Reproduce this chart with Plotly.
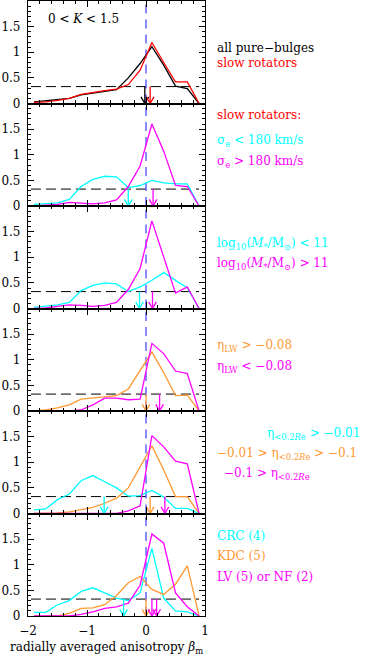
import plotly.graph_objects as go
from plotly.subplots import make_subplots

# ---------------- data ----------------
beta_bins = [-1.9, -1.7, -1.5, -1.3, -1.1, -0.9, -0.7, -0.5, -0.3, -0.1, 0.1, 0.3, 0.5, 0.7, 0.9]

# panel 1
all_pure_bulges = [0.03, 0.05, 0.08, 0.10, 0.17, 0.20, 0.23, 0.27, 0.50, 0.78, 1.11, 0.75, 0.34, 0.29, 0.0]
slow_rotators   = [0.02, 0.03, 0.06, 0.10, 0.18, 0.22, 0.25, 0.28, 0.37, 0.65, 1.19, 0.80, 0.42, 0.42, 0.0]
# panel 2
sigma_low  = [0.03, 0.04, 0.06, 0.13, 0.38, 0.52, 0.58, 0.57, 0.36, 0.40, 0.50, 0.45, 0.43, 0.43, 0.0]
sigma_high = [0.00, 0.01, 0.03, 0.07, 0.06, 0.04, 0.06, 0.12, 0.38, 0.78, 1.60, 1.07, 0.40, 0.38, 0.0]
# panel 3
mass_low  = [0.02, 0.04, 0.07, 0.12, 0.35, 0.45, 0.50, 0.48, 0.33, 0.42, 0.55, 0.70, 0.55, 0.40, 0.0]
mass_high = [0.00, 0.01, 0.04, 0.07, 0.06, 0.04, 0.06, 0.12, 0.37, 0.78, 1.71, 1.00, 0.30, 0.42, 0.0]
# panel 4
etaLW_high = [0.00, 0.02, 0.06, 0.12, 0.23, 0.25, 0.27, 0.30, 0.43, 0.80, 1.15, 0.75, 0.30, 0.31, 0.0]
etaLW_low  = [0.00, 0.00, 0.00, 0.00, 0.02, 0.12, 0.25, 0.25, 0.22, 0.23, 1.32, 1.12, 0.78, 0.73, 0.0]
# panel 5
eta02_high = [0.07, 0.09, 0.27, 0.38, 0.64, 0.74, 0.62, 0.50, 0.34, 0.35, 0.45, 0.32, 0.10, 0.10, 0.0]
eta02_mid  = [0.00, 0.00, 0.01, 0.03, 0.08, 0.12, 0.20, 0.30, 0.50, 0.90, 1.32, 0.85, 0.33, 0.33, 0.0]
eta02_low  = [0.00, 0.00, 0.00, 0.00, 0.00, 0.00, 0.00, 0.00, 0.05, 0.15, 1.52, 1.30, 1.02, 0.97, 0.0]
# panel 6
crc      = [0.07, 0.07, 0.22, 0.30, 0.48, 0.55, 0.45, 0.35, 0.30, 0.45, 1.32, 0.35, 0.10, 0.08, 0.0]
kdc      = [0.00, 0.00, 0.00, 0.05, 0.15, 0.16, 0.22, 0.40, 0.65, 0.77, 0.52, 0.42, 0.62, 0.98, 0.0]
lv_nf    = [0.00, 0.00, 0.00, 0.00, 0.03, 0.08, 0.15, 0.18, 0.25, 0.60, 1.60, 1.42, 0.45, 0.18, 0.0]

# median arrows (beta values) per panel
arrows_p1 = {"black": [-0.02], "red": [0.07]}
arrows_p2 = {"cyan": [-0.30], "magenta": [0.12]}
arrows_p3 = {"cyan": [-0.11], "magenta": [0.11]}
arrows_p4 = {"orange": [0.00], "magenta": [0.23]}
arrows_p5 = {"cyan": [-0.71], "orange": [0.07], "magenta": [0.32]}
arrows_p6 = {"cyan": [-0.38], "orange": [0.00], "magenta": [0.10, 0.18]}

threshold_level = 0.33
isotropic_beta = 0.0

x_ticks = [-2, -1, 0, 1]
x_tick_labels = ["\u22122", "\u22121", "0", "1"]
y_ticks = [0, 0.5, 1, 1.5]
y_tick_labels = ["0", "0.5", "1", "1.5"]

# ---------------- style ----------------
COL = {
    "black": "#000000",
    "red": "#FF0000",
    "cyan": "#00FFFF",
    "magenta": "#FF00FF",
    "orange": "#FF9933",
    "blue": "#3C3CFF",
}
FONT = "DejaVu Serif"
W, H = 387, 657
ML, MR, MT, MB = 28, 182, 1, 41

fig = make_subplots(rows=6, cols=1, shared_xaxes=True, vertical_spacing=0)

panels = [
    [(all_pure_bulges, "black"), (slow_rotators, "red")],
    [(sigma_low, "cyan"), (sigma_high, "magenta")],
    [(mass_low, "cyan"), (mass_high, "magenta")],
    [(etaLW_high, "orange"), (etaLW_low, "magenta")],
    [(eta02_high, "cyan"), (eta02_mid, "orange"), (eta02_low, "magenta")],
    [(crc, "cyan"), (kdc, "orange"), (lv_nf, "magenta")],
]
panel_arrows = [arrows_p1, arrows_p2, arrows_p3, arrows_p4, arrows_p5, arrows_p6]

HEAD_DX = 0.065
HEAD_DY = 0.13

for i, (series, arrows) in enumerate(zip(panels, panel_arrows)):
    row = i + 1
    # threshold dashed line
    fig.add_trace(go.Scatter(x=[beta_bins[0] - 0.05, beta_bins[-1]], y=[threshold_level, threshold_level],
                             mode="lines", line=dict(color="black", width=1, dash="10px,5px"),
                             showlegend=False, hoverinfo="skip"), row=row, col=1)
    # isotropic vertical dashed line
    fig.add_trace(go.Scatter(x=[isotropic_beta, isotropic_beta], y=[0, 2],
                             mode="lines", line=dict(color=COL["blue"], width=1.2, dash="9px,6px"),
                             showlegend=False, hoverinfo="skip"), row=row, col=1)
    for ys, c in series:
        fig.add_trace(go.Scatter(x=beta_bins, y=ys, mode="lines",
                                 line=dict(color=COL[c], width=1.3),
                                 showlegend=False, hoverinfo="skip"), row=row, col=1)
    for c, vals in arrows.items():
        for a in vals:
            xs = [a, a, None, a - HEAD_DX, a, a + HEAD_DX]
            ys = [threshold_level, 0, None, HEAD_DY, 0, HEAD_DY]
            fig.add_trace(go.Scatter(x=xs, y=ys, mode="lines",
                                     line=dict(color=COL[c], width=1.3),
                                     showlegend=False, hoverinfo="skip"), row=row, col=1)

fig.update_xaxes(range=[-2, 1], showgrid=False, zeroline=False, automargin=False,
                 showline=True, linecolor="black", linewidth=1.2, mirror="ticks",
                 ticks="inside", ticklen=6, tickwidth=1, tickcolor="black",
                 tickvals=x_ticks, ticktext=x_tick_labels, ticklabelstandoff=3,
                 minor=dict(dtick=0.2, tick0=0, ticks="inside", ticklen=3, tickcolor="black", showgrid=False),
                 tickfont=dict(family=FONT, size=12, color="black"))
fig.update_yaxes(range=[0, 2], showgrid=False, zeroline=False, automargin=False,
                 showline=True, linecolor="black", linewidth=1.2, mirror="ticks",
                 ticks="inside", ticklen=6, tickwidth=1, tickcolor="black",
                 tickvals=y_ticks, ticktext=y_tick_labels, ticklabelstandoff=4,
                 minor=dict(dtick=0.1, tick0=0, ticks="inside", ticklen=3, tickcolor="black", showgrid=False),
                 tickfont=dict(family=FONT, size=12, color="black"))

plot_h = H - MT - MB
plot_w = W - ML - MR


def px_to_paper(px, py):
    return (px - ML) / plot_w, (H - MB - py) / plot_h


labels = [
    (215, 48, "all pure\u2212bulges", "black"),
    (215, 63, "slow rotators", "red"),
    (215, 115, "slow rotators:", "red"),
    (215, 141, "\u03c3<sub>e</sub> &lt; 180 km/s", "cyan"),
    (215, 162, "\u03c3<sub>e</sub> &gt; 180 km/s", "magenta"),
    (215, 244, "log<sub>10</sub>(<i>M</i><sub>*</sub>/M<sub>\u2299</sub>) &lt; 11", "cyan"),
    (215, 264, "log<sub>10</sub>(<i>M</i><sub>*</sub>/M<sub>\u2299</sub>) &gt; 11", "magenta"),
    (215, 346, "\u03b7<sub>LW</sub> &gt; \u22120.08", "orange"),
    (215, 367, "\u03b7<sub>LW</sub> &lt; \u22120.08", "magenta"),
    (265, 434, "\u03b7<sub>&lt;0.2<i>R</i>e</sub> &gt; \u22120.01", "cyan"),
    (215, 454, "\u22120.01 &gt; \u03b7<sub>&lt;0.2<i>R</i>e</sub> &gt; \u22120.1", "orange"),
    (222, 474, "\u22120.1 &gt; \u03b7<sub>&lt;0.2<i>R</i>e</sub>", "magenta"),
    (215, 536, "CRC (4)", "cyan"),
    (215, 556, "KDC (5)", "orange"),
    (215, 577, "LV (5) or NF (2)", "magenta"),
]
for px, py, txt, c in labels:
    xp, yp = px_to_paper(px, py)
    fig.add_annotation(x=xp, y=yp, xref="paper", yref="paper", text=txt, showarrow=False,
                       xanchor="left", yanchor="middle",
                       font=dict(family=FONT, size=12, color=COL[c]))

# x-axis title
xp, yp = px_to_paper(8, 648)
fig.add_annotation(x=xp, y=yp, xref="paper", yref="paper",
                   text="radially averaged anisotropy <i>\u03b2</i><sub>m</sub>", showarrow=False,
                   xanchor="left", yanchor="middle", font=dict(family=FONT, size=12, color="black"))

fig.add_annotation(x=-1.69, y=1.65, xref="x", yref="y", text="0 &lt; <i>K</i> &lt; 1.5", showarrow=False,
                   xanchor="left", yanchor="middle", font=dict(family=FONT, size=12, color="black"))

fig.update_layout(width=W, height=H, margin=dict(l=ML, r=MR, t=MT, b=MB, autoexpand=False),
                  plot_bgcolor="white", paper_bgcolor="white",
                  font=dict(family=FONT, size=12, color="black"))

fig.write_html("out.html", config={"displayModeBar": False},
               post_script="document.body.style.margin='0';document.body.style.padding='0';")
